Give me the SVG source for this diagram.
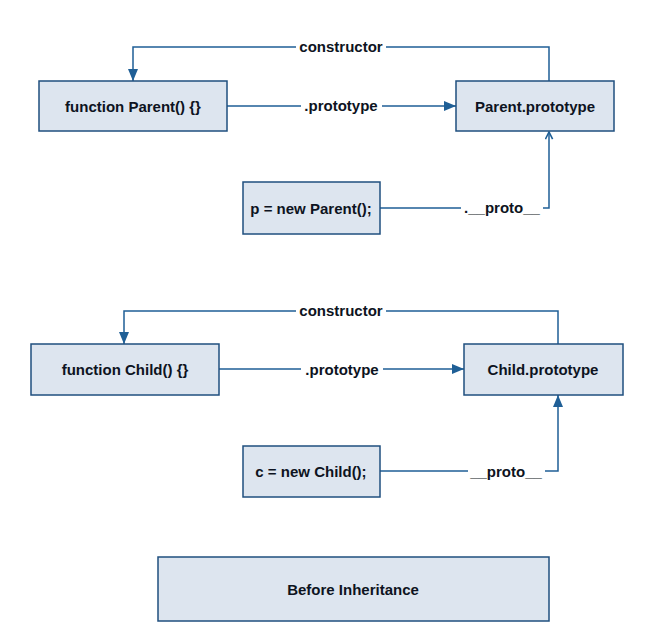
<svg xmlns="http://www.w3.org/2000/svg" width="669" height="630" viewBox="0 0 669 630">
<style>
.box{fill:#dde5ef;stroke:#1f4f7f;stroke-width:1.5}
.t{font-family:"Liberation Sans",Arial,sans-serif;font-weight:bold;font-size:15px;fill:#0d1321;text-anchor:middle;dominant-baseline:central}
.c{fill:none;stroke:#1f5f96;stroke-width:1.5}
</style>
<defs>
<marker id="a" viewBox="0 0 12 10" refX="12" refY="5" markerWidth="12" markerHeight="10" markerUnits="userSpaceOnUse" orient="auto"><path d="M0,0L12,5L0,10z" fill="#1f5f96"/></marker>
<marker id="o" viewBox="0 0 10 10" refX="9" refY="5" markerWidth="9" markerHeight="9" markerUnits="userSpaceOnUse" orient="auto"><path d="M1,1L9,5L1,9" fill="none" stroke="#1f5f96" stroke-width="1.8"/></marker>
</defs>
<rect width="669" height="630" fill="#ffffff"/>
<g id="connectors">
<path class="c" d="M549,81V47H386M296,47H133V81" marker-end="url(#a)"/>
<path class="c" d="M227,106H301M382,106H456" marker-end="url(#a)"/>
<path class="c" d="M380,208H461M543,208H549V132" marker-end="url(#o)"/>
<path class="c" d="M558,344V311H386M296,311H124V344" marker-end="url(#a)"/>
<path class="c" d="M219,369H301M383,369H464" marker-end="url(#a)"/>
<path class="c" d="M380,471H468M545,471H558V395" marker-end="url(#a)"/>
<text class="t" x="341" y="46">constructor</text>
<text class="t" x="341" y="105">.prototype</text>
<text class="t" x="502" y="207">.__proto__</text>
<text class="t" x="341" y="310">constructor</text>
<text class="t" x="342" y="369">.prototype</text>
<text class="t" x="506" y="471">__proto__</text>
</g>
<g id="parentFn"><rect class="box" x="39" y="81" width="188" height="50"/><text class="t" x="133" y="106">function Parent() {}</text></g>
<g id="parentProto"><rect class="box" x="456" y="81" width="158" height="50"/><text class="t" x="535" y="106">Parent.prototype</text></g>
<g id="pInst"><rect class="box" x="243" y="182" width="137" height="52"/><text class="t" x="311" y="208">p = new Parent();</text></g>
<g id="childFn"><rect class="box" x="31" y="344" width="188" height="51"/><text class="t" x="125" y="369">function Child() {}</text></g>
<g id="childProto"><rect class="box" x="464" y="344" width="159" height="51"/><text class="t" x="543" y="369">Child.prototype</text></g>
<g id="cInst"><rect class="box" x="243" y="446" width="137" height="51"/><text class="t" x="311" y="471">c = new Child();</text></g>
<g id="caption"><rect class="box" x="158" y="557" width="391" height="64"/><text class="t" x="353" y="589">Before Inheritance</text></g>
</svg>
